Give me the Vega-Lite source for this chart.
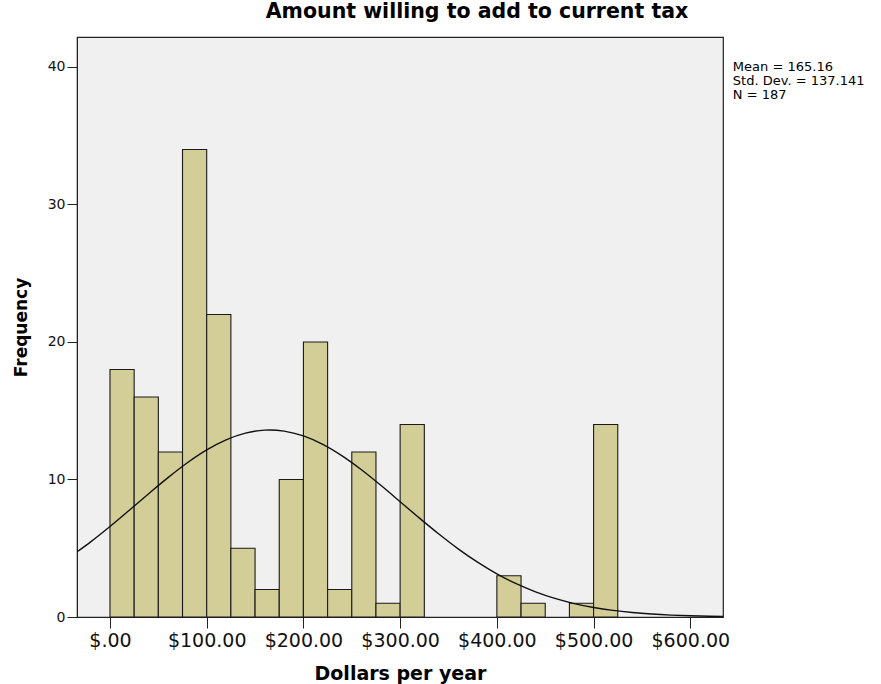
{
  "$schema": "https://vega.github.io/schema/vega-lite/v6.json",
  "width": 646,
  "height": 580,
  "autosize": {"type": "none"},
  "padding": {"left": 77, "top": 37, "right": 158, "bottom": 67},
  "background": "white",
  "config": {
    "font": "DejaVu Sans",
    "view": {"fill": "#f0f0f0", "stroke": "#222222", "strokeWidth": 1.2}
  },
  "title": {
    "text": "Amount willing to add to current tax",
    "font": "DejaVu Sans",
    "fontSize": 20.5,
    "fontWeight": "bold",
    "color": "#000000",
    "anchor": "middle",
    "frame": "group",
    "dx": 77,
    "offset": 15
  },
  "datasets": {
    "bins": [
      {"lo": 0, "hi": 25, "count": 18},
      {"lo": 25, "hi": 50, "count": 16},
      {"lo": 50, "hi": 75, "count": 12},
      {"lo": 75, "hi": 100, "count": 34},
      {"lo": 100, "hi": 125, "count": 22},
      {"lo": 125, "hi": 150, "count": 5},
      {"lo": 150, "hi": 175, "count": 2},
      {"lo": 175, "hi": 200, "count": 10},
      {"lo": 200, "hi": 225, "count": 20},
      {"lo": 225, "hi": 250, "count": 2},
      {"lo": 250, "hi": 275, "count": 12},
      {"lo": 275, "hi": 300, "count": 1},
      {"lo": 300, "hi": 325, "count": 14},
      {"lo": 400, "hi": 425, "count": 3},
      {"lo": 425, "hi": 450, "count": 1},
      {"lo": 475, "hi": 500, "count": 1},
      {"lo": 500, "hi": 525, "count": 14}
    ],
    "curve": [
      {"dollars": -34, "frequency": 4.738},
      {"dollars": -20, "frequency": 5.466},
      {"dollars": 0, "frequency": 6.585},
      {"dollars": 20, "frequency": 7.767},
      {"dollars": 40, "frequency": 8.967},
      {"dollars": 60, "frequency": 10.135},
      {"dollars": 80, "frequency": 11.215},
      {"dollars": 100, "frequency": 12.148},
      {"dollars": 120, "frequency": 12.882},
      {"dollars": 140, "frequency": 13.372},
      {"dollars": 160, "frequency": 13.590},
      {"dollars": 165.16, "frequency": 13.600},
      {"dollars": 180, "frequency": 13.520},
      {"dollars": 200, "frequency": 13.168},
      {"dollars": 220, "frequency": 12.554},
      {"dollars": 240, "frequency": 11.718},
      {"dollars": 260, "frequency": 10.707},
      {"dollars": 280, "frequency": 9.577},
      {"dollars": 300, "frequency": 8.387},
      {"dollars": 320, "frequency": 7.190},
      {"dollars": 340, "frequency": 6.034},
      {"dollars": 360, "frequency": 4.957},
      {"dollars": 380, "frequency": 3.987},
      {"dollars": 400, "frequency": 3.139},
      {"dollars": 420, "frequency": 2.419},
      {"dollars": 440, "frequency": 1.826},
      {"dollars": 460, "frequency": 1.349},
      {"dollars": 480, "frequency": 0.975},
      {"dollars": 500, "frequency": 0.690},
      {"dollars": 520, "frequency": 0.478},
      {"dollars": 540, "frequency": 0.325},
      {"dollars": 560, "frequency": 0.216},
      {"dollars": 580, "frequency": 0.140},
      {"dollars": 600, "frequency": 0.089},
      {"dollars": 620, "frequency": 0.056},
      {"dollars": 634, "frequency": 0.039}
    ],
    "stats": [
      {"stats": "Mean = 165.16\nStd. Dev. = 137.141\nN = 187"}
    ]
  },
  "layer": [
    {
      "data": {"name": "bins"},
      "mark": {"type": "bar", "fill": "#d3ce97", "stroke": "#1a1a1a", "strokeWidth": 1.1},
      "encoding": {
        "x": {
          "field": "lo",
          "type": "quantitative",
          "title": "Dollars per year",
          "scale": {"domain": [-34.1, 633.8], "nice": false, "zero": false},
          "axis": {
            "values": [0, 100, 200, 300, 400, 500, 600],
            "labelExpr": "datum.value == 0 ? '$.00' : '$' + format(datum.value, '.2f')",
            "grid": false,
            "tickSize": 11,
            "tickColor": "#222222",
            "domainColor": "#222222",
            "labelFontSize": 19,
            "labelColor": "#111111",
            "labelPadding": 3,
            "titleFontSize": 19,
            "titleFontWeight": "bold",
            "titleColor": "#000000",
            "titlePadding": 14
          }
        },
        "x2": {"field": "hi"},
        "y": {
          "field": "count",
          "type": "quantitative",
          "title": "Frequency",
          "scale": {"domain": [0, 42.18], "nice": false},
          "axis": {
            "values": [0, 10, 20, 30, 40],
            "grid": false,
            "tickSize": 10,
            "tickColor": "#222222",
            "domainColor": "#222222",
            "labelFontSize": 14,
            "labelColor": "#111111",
            "labelPadding": 2,
            "titleFontSize": 17,
            "titleFontWeight": "bold",
            "titleColor": "#000000",
            "titlePadding": 17
          }
        },
        "y2": {"datum": 0}
      }
    },
    {
      "data": {"name": "curve"},
      "mark": {"type": "line", "color": "#111111", "strokeWidth": 1.4, "interpolate": "monotone", "clip": true},
      "encoding": {
        "x": {"field": "dollars", "type": "quantitative", "title": "Dollars per year"},
        "y": {"field": "frequency", "type": "quantitative", "title": "Frequency"}
      }
    },
    {
      "data": {"name": "stats"},
      "mark": {"type": "text", "align": "left", "baseline": "top", "fontSize": 13, "lineBreak": "\n", "lineHeight": 14, "color": "#000000"},
      "encoding": {
        "x": {"datum": 644, "type": "quantitative", "title": "Dollars per year"},
        "y": {"datum": 40.4, "type": "quantitative", "title": "Frequency"},
        "text": {"field": "stats"}
      }
    }
  ]
}
